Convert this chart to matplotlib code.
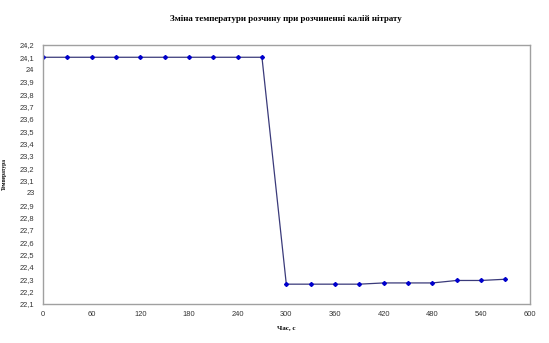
import matplotlib
matplotlib.use('Agg')
import matplotlib.pyplot as plt
from matplotlib.ticker import FuncFormatter

# Reference data
time_s = [0, 30, 60, 90, 120, 150, 180, 210, 240, 270,
          300, 330, 360, 390, 420, 450, 480, 510, 540, 570]
temp_c = [24.1, 24.1, 24.1, 24.1, 24.1, 24.1, 24.1, 24.1, 24.1, 24.1,
          22.26, 22.26, 22.26, 22.26, 22.27, 22.27, 22.27, 22.29, 22.29, 22.3]
x_ticks = [0, 60, 120, 180, 240, 300, 360, 420, 480, 540, 600]
y_ticks = [round(22.1 + 0.1 * i, 1) for i in range(22)]

title = 'Зміна температури розчину при розчиненні калій нітрату'
x_label = 'Час, с'
y_label = 'Температура'


def comma_fmt(v, pos):
    s = f'{v:.1f}'.replace('.', ',')
    if s.endswith(',0'):
        s = s[:-2]
    return s


fig = plt.figure(figsize=(5.49, 3.43), dpi=100)
ax = fig.add_axes([0.078, 0.114, 0.887, 0.755])

ax.plot(time_s, temp_c, color='#3a3a7a', linewidth=0.9,
        marker='D', markersize=2.0, markerfacecolor='#0000cc',
        markeredgecolor='#0000cc')

ax.set_xlim(0, 600)
ax.set_ylim(22.1, 24.2)
ax.set_xticks(x_ticks)
ax.set_yticks(y_ticks)
ax.yaxis.set_major_formatter(FuncFormatter(comma_fmt))

for s in ax.spines.values():
    s.set_color('#a0a0a0')
    s.set_linewidth(1.0)
ax.tick_params(axis='both', length=0, labelsize=5.4, colors='#333333')
ax.tick_params(axis='x', pad=5)
ax.tick_params(axis='y', pad=6)
for lab in ax.get_xticklabels() + ax.get_yticklabels():
    lab.set_fontfamily('Liberation Sans')

ax.set_title(title, fontsize=6.4, fontweight='bold', family='Liberation Serif', pad=17)
ax.set_xlabel(x_label, fontsize=5, fontweight='bold', family='Liberation Serif', labelpad=5)
ax.set_ylabel(y_label, fontsize=4, fontweight='bold', family='Liberation Serif', labelpad=9)

fig.savefig('out.png', dpi=100)
